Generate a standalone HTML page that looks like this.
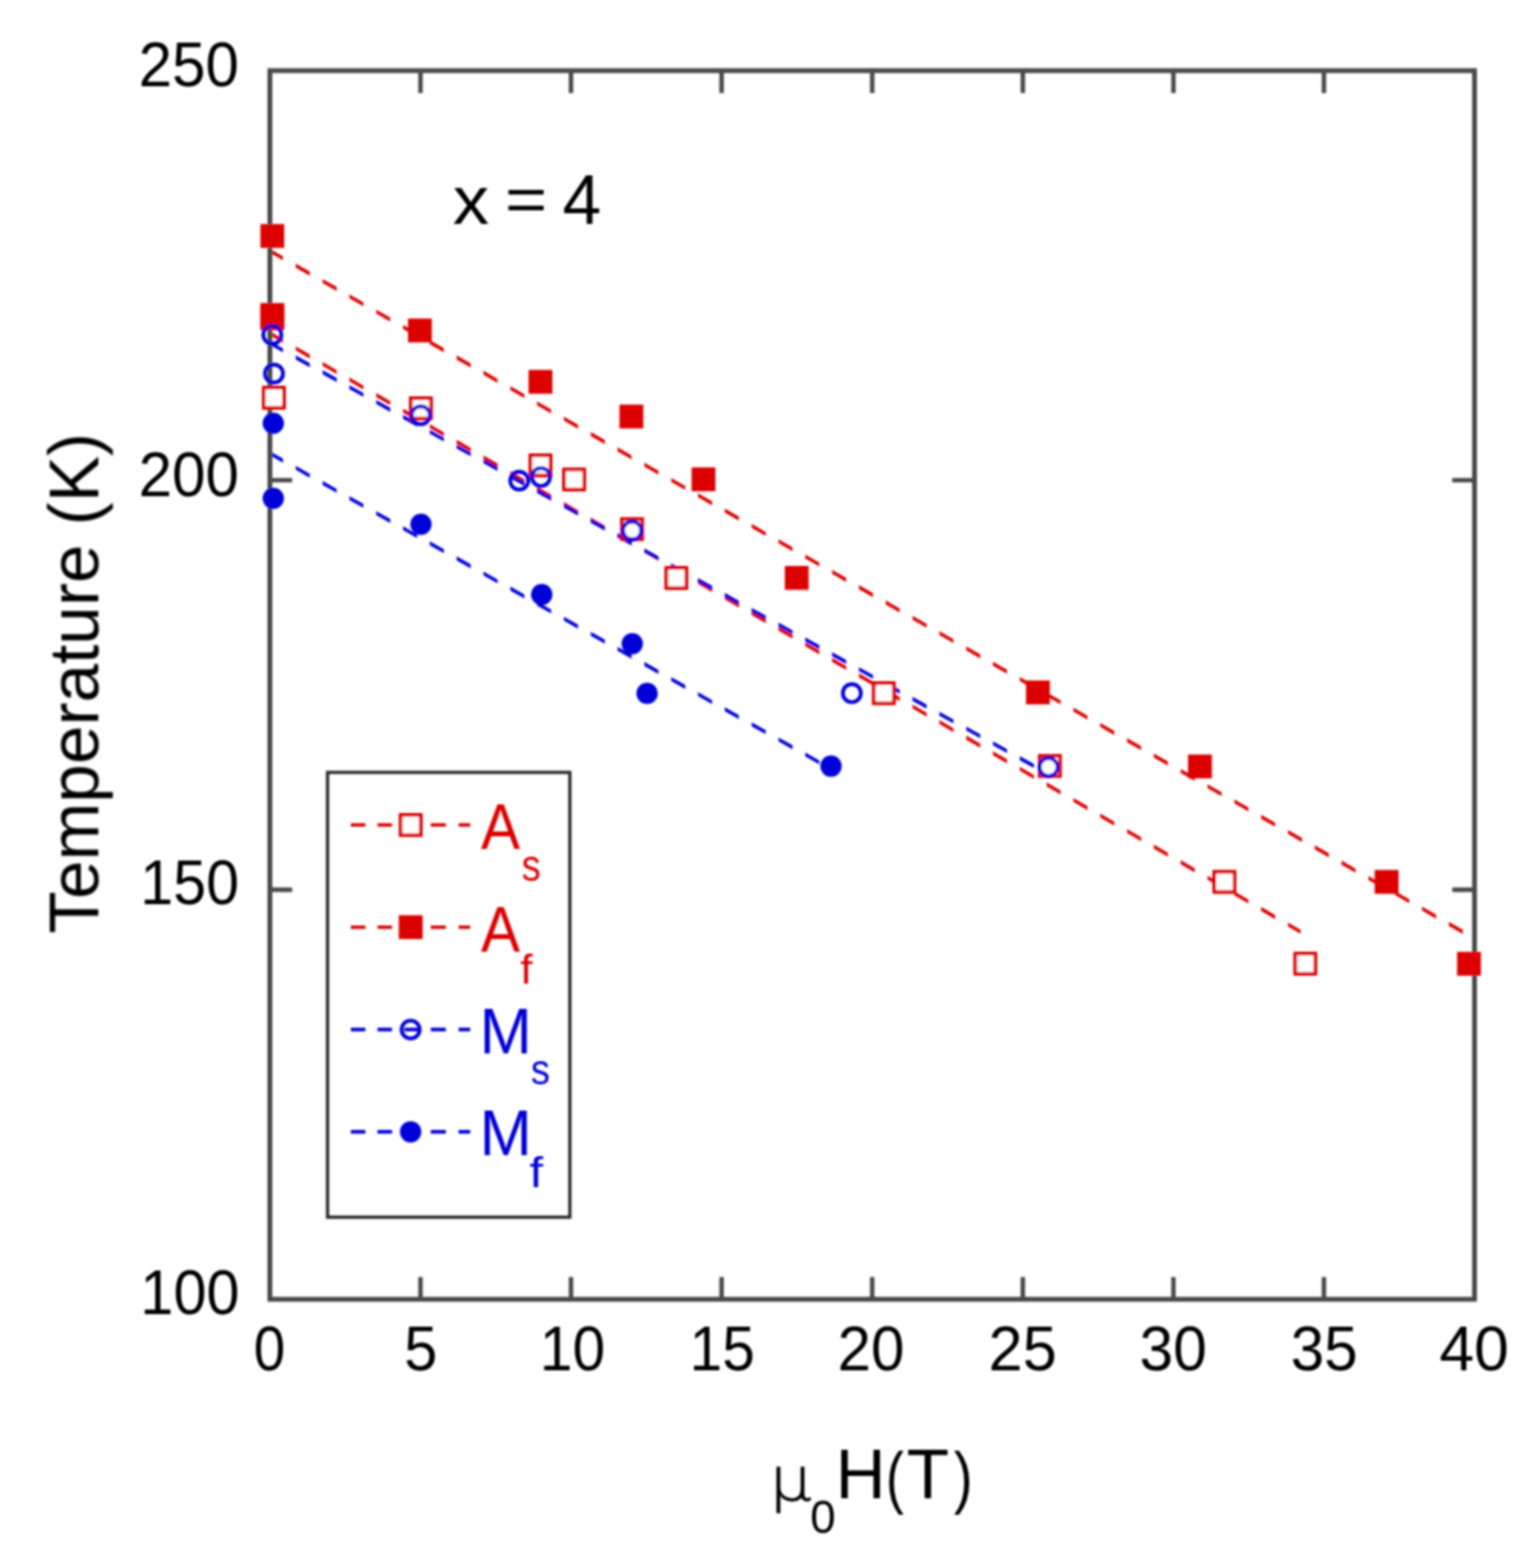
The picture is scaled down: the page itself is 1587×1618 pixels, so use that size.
<!DOCTYPE html>
<html><head><meta charset="utf-8"><title>Transition temperatures vs field, x = 4</title>
<style>html,body{margin:0;padding:0;background:#fff;}body{width:1587px;height:1618px;overflow:hidden;}svg{display:block;}text{font-family:'Liberation Sans', Arial, Helvetica, sans-serif;}</style></head><body>
<svg width="1587" height="1618" viewBox="0 0 1587 1618">
<rect width="1587" height="1618" fill="#fff"/>
<defs><filter id="b" x="0" y="0" width="1587" height="1618" filterUnits="userSpaceOnUse"><feGaussianBlur stdDeviation="0.8"/></filter></defs>
<g filter="url(#b)">
<path fill="#dc0505" d="M278.5 256.8L292 264.5L292 268.6L278.5 260.9ZM305.2 272.1L319.7 280.3L319.7 284.4L305.2 276.2ZM332.9 287.9L347.4 296.1L347.4 300.2L332.9 292ZM360.5 303.7L375 311.9L375 316L360.5 307.8ZM388.2 319.5L402.7 327.7L402.7 331.8L388.2 323.6ZM415.9 335.3L430.4 343.5L430.4 347.6L415.9 339.4ZM443.5 351.1L458 359.3L458 363.4L443.5 355.2ZM471.2 366.8L485.7 375.1L485.7 379.2L471.2 370.9ZM498.9 382.6L513.4 390.9L513.4 395L498.9 386.7ZM526.6 398.4L541.1 406.7L541.1 410.8L526.6 402.5ZM554.2 414.2L568.7 422.5L568.7 426.6L554.2 418.3ZM581.9 430L596.4 438.3L596.4 442.4L581.9 434.1ZM609.6 445.8L624.1 454.1L624.1 458.2L609.6 449.9ZM637.2 461.6L651.7 469.9L651.7 474L637.2 465.7ZM664.9 477.4L679.4 485.7L679.4 489.8L664.9 481.5ZM692.6 493.2L707.1 501.5L707.1 505.6L692.6 497.3ZM720.2 509L734.8 517.3L734.8 521.4L720.2 513.1ZM747.9 524.8L762.4 533.1L762.4 537.2L747.9 528.9ZM775.6 540.6L790.1 548.9L790.1 553L775.6 544.7ZM803.3 556.4L817.8 564.7L817.8 568.8L803.3 560.5ZM830.9 572.2L845.4 580.5L845.4 584.6L830.9 576.3ZM858.6 588L873.1 596.3L873.1 600.4L858.6 592.1ZM886.3 603.8L900.8 612.1L900.8 616.2L886.3 607.9ZM913.9 619.6L928.4 627.9L928.4 632L913.9 623.7ZM941.6 635.4L956.1 643.7L956.1 647.8L941.6 639.5ZM969.3 651.2L983.8 659.5L983.8 663.6L969.3 655.3ZM997 667L1011.5 675.3L1011.5 679.4L997 671.1ZM1024.6 682.8L1039.1 691.1L1039.1 695.2L1024.6 686.9ZM1052.3 698.6L1066.8 706.9L1066.8 711L1052.3 702.7ZM1080 714.4L1094.5 722.7L1094.5 726.8L1080 718.5ZM1107.6 730.2L1122.1 738.5L1122.1 742.6L1107.6 734.3ZM1135.3 746L1149.8 754.3L1149.8 758.4L1135.3 750.1ZM1163 761.8L1177.5 770L1177.5 774.1L1163 765.9ZM1190.6 777.6L1205.1 785.8L1205.1 789.9L1190.6 781.7ZM1218.3 793.4L1232.8 801.6L1232.8 805.7L1218.3 797.5ZM1246 809.2L1260.5 817.4L1260.5 821.5L1246 813.3ZM1273.7 825L1288.2 833.2L1288.2 837.3L1273.7 829.1ZM1301.3 840.8L1315.8 849L1315.8 853.1L1301.3 844.9ZM1329 856.5L1343.5 864.8L1343.5 868.9L1329 860.6ZM1356.7 872.3L1371.2 880.6L1371.2 884.7L1356.7 876.4ZM1384.3 888.1L1398.8 896.4L1398.8 900.5L1384.3 892.2ZM1412 903.9L1426.5 912.2L1426.5 916.3L1412 908ZM1439.7 919.7L1454.2 928L1454.2 932.1L1439.7 923.8ZM1467.3 935.5L1481.8 943.8L1481.8 947.9L1467.3 939.6ZM1495 951.3L1509.5 959.6L1509.5 963.7L1495 955.4Z"/>
<path fill="#dc0505" d="M278.5 341.9L292 349.7L292 353.8L278.5 346ZM305.2 357.4L319.7 365.8L319.7 369.9L305.2 361.5ZM332.9 373.5L347.4 381.9L347.4 386L332.9 377.6ZM360.5 389.5L375 398L375 402.1L360.5 393.6ZM388.2 405.6L402.7 414L402.7 418.1L388.2 409.7ZM415.9 421.7L430.4 430.1L430.4 434.2L415.9 425.8ZM443.5 437.7L458 446.2L458 450.3L443.5 441.8ZM471.2 453.8L485.7 462.2L485.7 466.3L471.2 457.9ZM498.9 469.9L513.4 478.3L513.4 482.4L498.9 474ZM526.6 485.9L541.1 494.4L541.1 498.5L526.6 490ZM554.2 502L568.7 510.4L568.7 514.5L554.2 506.1ZM581.9 518.1L596.4 526.5L596.4 530.6L581.9 522.2ZM609.6 534.1L624.1 542.6L624.1 546.7L609.6 538.2ZM637.2 550.2L651.7 558.6L651.7 562.7L637.2 554.3ZM664.9 566.3L679.4 574.7L679.4 578.8L664.9 570.4ZM692.6 582.3L707.1 590.8L707.1 594.9L692.6 586.4ZM720.2 598.4L734.8 606.8L734.8 610.9L720.2 602.5ZM747.9 614.5L762.4 622.9L762.4 627L747.9 618.6ZM775.6 630.6L790.1 639L790.1 643.1L775.6 634.7ZM803.3 646.6L817.8 655L817.8 659.1L803.3 650.7ZM830.9 662.7L845.4 671.1L845.4 675.2L830.9 666.8ZM858.6 678.8L873.1 687.2L873.1 691.3L858.6 682.9ZM886.3 694.8L900.8 703.2L900.8 707.3L886.3 698.9ZM913.9 710.9L928.4 719.3L928.4 723.4L913.9 715ZM941.6 727L956.1 735.4L956.1 739.5L941.6 731.1ZM969.3 743L983.8 751.4L983.8 755.5L969.3 747.1ZM997 759.1L1011.5 767.5L1011.5 771.6L997 763.2ZM1024.6 775.2L1039.1 783.6L1039.1 787.7L1024.6 779.3ZM1052.3 791.2L1066.8 799.7L1066.8 803.8L1052.3 795.3ZM1080 807.3L1094.5 815.7L1094.5 819.8L1080 811.4ZM1107.6 823.4L1122.1 831.8L1122.1 835.9L1107.6 827.5ZM1135.3 839.4L1149.8 847.9L1149.8 852L1135.3 843.5ZM1163 855.5L1177.5 863.9L1177.5 868L1163 859.6ZM1190.6 871.6L1205.1 880L1205.1 884.1L1190.6 875.7ZM1218.3 887.6L1232.8 896.1L1232.8 900.2L1218.3 891.7ZM1246 903.7L1260.5 912.1L1260.5 916.2L1246 907.8ZM1273.7 919.8L1288.2 928.2L1288.2 932.3L1273.7 923.9ZM1301.3 935.8L1315.8 944.3L1315.8 948.4L1301.3 939.9ZM1329 951.9L1342 959.5L1342 963.6L1329 956Z"/>
<path fill="#0000d8" d="M278.5 352L292 359.5L292 363.6L278.5 356.1ZM305.2 366.8L319.7 374.8L319.7 378.9L305.2 370.9ZM332.9 382.1L347.4 390.1L347.4 394.2L332.9 386.2ZM360.5 397.4L375 405.5L375 409.6L360.5 401.5ZM388.2 412.7L402.7 420.8L402.7 424.9L388.2 416.8ZM415.9 428.1L430.4 436.1L430.4 440.2L415.9 432.2ZM443.5 443.4L458 451.4L458 455.5L443.5 447.5ZM471.2 458.7L485.7 466.7L485.7 470.8L471.2 462.8ZM498.9 474L513.4 482L513.4 486.1L498.9 478.1ZM526.6 489.3L541.1 497.3L541.1 501.4L526.6 493.4ZM554.2 504.6L568.7 512.7L568.7 516.8L554.2 508.7ZM581.9 520L596.4 528L596.4 532.1L581.9 524.1ZM609.6 535.3L624.1 543.3L624.1 547.4L609.6 539.4ZM637.2 550.6L651.7 558.6L651.7 562.7L637.2 554.7ZM664.9 565.9L679.4 573.9L679.4 578L664.9 570ZM692.6 581.2L707.1 589.2L707.1 593.3L692.6 585.3ZM720.2 596.5L734.8 604.6L734.8 608.7L720.2 600.6ZM747.9 611.8L762.4 619.9L762.4 624L747.9 615.9ZM775.6 627.2L790.1 635.2L790.1 639.3L775.6 631.3ZM803.3 642.5L817.8 650.5L817.8 654.6L803.3 646.6ZM830.9 657.8L845.4 665.8L845.4 669.9L830.9 661.9ZM858.6 673.1L873.1 681.1L873.1 685.2L858.6 677.2ZM886.3 688.4L900.8 696.4L900.8 700.5L886.3 692.5ZM913.9 703.7L928.4 711.8L928.4 715.9L913.9 707.8ZM941.6 719.1L956.1 727.1L956.1 731.2L941.6 723.2ZM969.3 734.4L983.8 742.4L983.8 746.5L969.3 738.5ZM997 749.7L1011.5 757.7L1011.5 761.8L997 753.8ZM1024.6 765L1039.1 773L1039.1 777.1L1024.6 769.1ZM1052.3 780.3L1066.8 788.3L1066.8 792.4L1052.3 784.4ZM1080 795.6L1082 796.8L1082 800.9L1080 799.7Z"/>
<path fill="#0000d8" d="M278.5 465.7L292 473.3L292 477.4L278.5 469.8ZM305.2 480.7L319.7 488.9L319.7 493L305.2 484.8ZM332.9 496.3L347.4 504.5L347.4 508.6L332.9 500.4ZM360.5 511.9L375 520L375 524.1L360.5 516ZM388.2 527.4L402.7 535.6L402.7 539.7L388.2 531.5ZM415.9 543L430.4 551.2L430.4 555.3L415.9 547.1ZM443.5 558.6L458 566.7L458 570.8L443.5 562.7ZM471.2 574.1L485.7 582.3L485.7 586.4L471.2 578.2ZM498.9 589.7L513.4 597.9L513.4 602L498.9 593.8ZM526.6 605.3L541.1 613.4L541.1 617.5L526.6 609.4ZM554.2 620.8L568.7 629L568.7 633.1L554.2 624.9ZM581.9 636.4L596.4 644.6L596.4 648.7L581.9 640.5ZM609.6 652L624.1 660.1L624.1 664.2L609.6 656.1ZM637.2 667.5L651.7 675.7L651.7 679.8L637.2 671.6ZM664.9 683.1L679.4 691.3L679.4 695.4L664.9 687.2ZM692.6 698.7L707.1 706.8L707.1 710.9L692.6 702.8ZM720.2 714.2L734.8 722.4L734.8 726.5L720.2 718.3ZM747.9 729.8L762.4 738L762.4 742.1L747.9 733.9ZM775.6 745.4L790.1 753.5L790.1 757.6L775.6 749.5ZM803.3 760.9L817.8 769.1L817.8 773.2L803.3 765ZM830.9 776.5L845.4 784.7L845.4 788.8L830.9 780.6Z"/>
<g stroke="#4a4a4a" stroke-width="5" fill="none">
<rect x="278.5" y="72.9" width="1243" height="1267.8"/>
<path stroke-width="4.6" d="M433.9 1340.7V1317.7M433.9 72.9V95.9M589.2 1340.7V1317.7M589.2 72.9V95.9M744.6 1340.7V1317.7M744.6 72.9V95.9M900 1340.7V1317.7M900 72.9V95.9M1055.4 1340.7V1317.7M1055.4 72.9V95.9M1210.8 1340.7V1317.7M1210.8 72.9V95.9M1366.1 1340.7V1317.7M1366.1 72.9V95.9M278.5 918.1H301.5M1521.5 918.1H1498.5M278.5 495.5H301.5M1521.5 495.5H1498.5"/>
</g>
<rect x="272.2" y="400" width="20.8" height="20.8" fill="#fff" stroke="#dc0505" stroke-width="3.8"/>
<rect x="423.9" y="410.9" width="20.8" height="20.8" fill="#fff" stroke="#dc0505" stroke-width="3.8"/>
<rect x="547.3" y="469.8" width="20.8" height="20.8" fill="#fff" stroke="#dc0505" stroke-width="3.8"/>
<rect x="582" y="484.4" width="20.8" height="20.8" fill="#fff" stroke="#dc0505" stroke-width="3.8"/>
<rect x="641.8" y="535.6" width="20.8" height="20.8" fill="#fff" stroke="#dc0505" stroke-width="3.8"/>
<rect x="687.5" y="586" width="20.8" height="20.8" fill="#fff" stroke="#dc0505" stroke-width="3.8"/>
<rect x="901.6" y="704.9" width="20.8" height="20.8" fill="#fff" stroke="#dc0505" stroke-width="3.8"/>
<rect x="1072.9" y="780" width="20.8" height="20.8" fill="#fff" stroke="#dc0505" stroke-width="3.8"/>
<rect x="1253" y="899.6" width="20.8" height="20.8" fill="#fff" stroke="#dc0505" stroke-width="3.8"/>
<rect x="1336.5" y="984" width="20.8" height="20.8" fill="#fff" stroke="#dc0505" stroke-width="3.8"/>
<rect x="268.7" y="231.2" width="24.6" height="24.6" fill="#dc0505"/>
<rect x="268.7" y="316.2" width="24.6" height="24.6" fill="#dc0505"/>
<rect x="268.7" y="312.7" width="24.6" height="24.6" fill="#dc0505"/>
<rect x="421" y="328.7" width="24.6" height="24.6" fill="#dc0505"/>
<rect x="545.4" y="381.7" width="24.6" height="24.6" fill="#dc0505"/>
<rect x="639.2" y="417.5" width="24.6" height="24.6" fill="#dc0505"/>
<rect x="713.6" y="482.3" width="24.6" height="24.6" fill="#dc0505"/>
<rect x="809.8" y="584" width="24.6" height="24.6" fill="#dc0505"/>
<rect x="1058.7" y="702.2" width="24.6" height="24.6" fill="#dc0505"/>
<rect x="1225.9" y="778.6" width="24.6" height="24.6" fill="#dc0505"/>
<rect x="1418.5" y="897.7" width="24.6" height="24.6" fill="#dc0505"/>
<rect x="1503.5" y="982.2" width="24.6" height="24.6" fill="#dc0505"/>
<circle cx="282" cy="436.7" r="11" fill="#0000d8"/>
<circle cx="282" cy="514.2" r="11" fill="#0000d8"/>
<circle cx="434.4" cy="541" r="11" fill="#0000d8"/>
<circle cx="559" cy="613.5" r="11" fill="#0000d8"/>
<circle cx="652.4" cy="664.2" r="11" fill="#0000d8"/>
<circle cx="667.7" cy="715.5" r="11" fill="#0000d8"/>
<circle cx="857.5" cy="790.6" r="11" fill="#0000d8"/>
<circle cx="281" cy="345.5" r="9.3" fill="none" stroke="#0000d8" stroke-width="3.9"/>
<circle cx="282.7" cy="385.5" r="9.3" fill="none" stroke="#0000d8" stroke-width="3.9"/>
<circle cx="434.2" cy="428.5" r="9.3" fill="none" stroke="#0000d8" stroke-width="3.9"/>
<circle cx="535.8" cy="496" r="9.3" fill="none" stroke="#0000d8" stroke-width="3.9"/>
<circle cx="558.2" cy="492.3" r="9.3" fill="none" stroke="#0000d8" stroke-width="3.9"/>
<circle cx="652.3" cy="547.5" r="9.3" fill="none" stroke="#0000d8" stroke-width="3.9"/>
<circle cx="879" cy="715.3" r="9.3" fill="none" stroke="#0000d8" stroke-width="3.9"/>
<circle cx="1082" cy="791.6" r="9.3" fill="none" stroke="#0000d8" stroke-width="3.9"/>
<g fill="#000">
<text transform="matrix(0.9489 0 0 1 142.99 88.99)" font-size="65.50" fill="#000">250</text>
<text transform="matrix(0.9489 0 0 1 142.99 511.79)" font-size="65.50" fill="#000">200</text>
<text transform="matrix(0.9317 0 0 1 144.82 932.69)" font-size="65.50" fill="#000">150</text>
<text transform="matrix(0.9366 0 0 1 144.80 1356.39)" font-size="65.50" fill="#000">100</text>
<text transform="matrix(0.8952 0 0 1 261.75 1414.19)" font-size="65.50" fill="#000">0</text>
<text transform="matrix(0.9417 0 0 1 417.03 1413.53)" font-size="65.50" fill="#000">5</text>
<text transform="matrix(0.9260 0 0 1 556.95 1414.19)" font-size="65.50" fill="#000">10</text>
<text transform="matrix(0.9252 0 0 1 711.55 1413.53)" font-size="65.50" fill="#000">15</text>
<text transform="matrix(0.9481 0 0 1 864.29 1414.19)" font-size="65.50" fill="#000">20</text>
<text transform="matrix(0.9669 0 0 1 1019.93 1414.19)" font-size="65.50" fill="#000">25</text>
<text transform="matrix(0.9573 0 0 1 1175.65 1414.19)" font-size="65.50" fill="#000">30</text>
<text transform="matrix(0.9523 0 0 1 1331.66 1414.19)" font-size="65.50" fill="#000">35</text>
<text transform="matrix(0.9873 0 0 1 1485.14 1414.19)" font-size="65.50" fill="#000">40</text>
</g>
<text transform="matrix(1.0557 0 0 1 467.16 231.25)" font-size="71.00" fill="#000">x</text>
<text transform="matrix(1.1593 0 0 1 520.90 227.60)" font-size="64.50" fill="#000">=</text>
<text transform="matrix(0.9926 0 0 1 580.59 231.25)" font-size="72.22" fill="#000">4</text>
<text transform="matrix(1.0913 0 0 1 794.43 1548.34)" font-size="61.99" fill="#000" stroke="#000" stroke-width="0.9" style="font-family:'DejaVu Sans',sans-serif;font-weight:200">&#956;</text>
<text transform="matrix(0.9763 0 0 1 835.91 1581.62)" font-size="48.48" fill="#000">0</text>
<text transform="matrix(0.9915 0 0 1 862.31 1545.90)" font-size="72.00" fill="#000">H</text>
<text transform="matrix(0.7866 0 0 1 913.91 1547.88)" font-size="71.00" fill="#000">(</text>
<text transform="matrix(0.9980 0 0 1 935.38 1545.90)" font-size="72.00" fill="#000">T</text>
<text transform="matrix(0.8291 0 0 1 984.26 1547.88)" font-size="71.00" fill="#000">)</text>
<text transform="matrix(0 -0.9935 1 0 101.40 963.41)" font-size="72.0">Temperature (K)</text>
<rect x="338" y="797" width="250" height="459" fill="none" stroke="#222" stroke-width="3.2"/>
<path fill="#dc0505" d="M362 849.5H377V853.1H362ZM389.5 849.5H404.5V853.1H389.5ZM417.2 849.5H432.2V853.1H417.2ZM444.5 849.5H460V853.1H444.5ZM473.2 849.5H485.2V853.1H473.2Z"/>
<rect x="413.4" y="840.9" width="20.8" height="20.8" fill="#fff" stroke="#dc0505" stroke-width="3.8"/>
<path fill="#dc0505" d="M362 954.9H377V958.5H362ZM389.5 954.9H404.5V958.5H389.5ZM417.2 954.9H432.2V958.5H417.2ZM444.5 954.9H460V958.5H444.5ZM473.2 954.9H485.2V958.5H473.2Z"/>
<rect x="411.5" y="944.4" width="24.6" height="24.6" fill="#dc0505"/>
<path fill="#0000d8" d="M362 1060.6H377V1064.2H362ZM389.5 1060.6H404.5V1064.2H389.5ZM417.2 1060.6H432.2V1064.2H417.2ZM444.5 1060.6H460V1064.2H444.5ZM473.2 1060.6H485.2V1064.2H473.2Z"/>
<circle cx="423.7" cy="1062.4" r="9.3" fill="none" stroke="#0000d8" stroke-width="3.9"/>
<path fill="#0000d8" d="M362 1166.1H377V1169.7H362ZM389.5 1166.1H404.5V1169.7H389.5ZM417.2 1166.1H432.2V1169.7H417.2ZM444.5 1166.1H460V1169.7H444.5ZM473.2 1166.1H485.2V1169.7H473.2Z"/>
<circle cx="423.7" cy="1167.9" r="11" fill="#0000d8"/>
<text transform="matrix(0.9010 0 0 1 496.15 876.30)" font-size="67.35" fill="#dc0505">A</text>
<text transform="matrix(0.8695 0 0 1 538.31 908.55)" font-size="45.48" fill="#dc0505">s</text>
<text transform="matrix(0.9010 0 0 1 496.15 981.80)" font-size="67.35" fill="#dc0505">A</text>
<text transform="matrix(1.0695 0 0 1 536.81 1014.80)" font-size="43.04" fill="#dc0505">f</text>
<text transform="matrix(0.9655 0 0 1 494.74 1086.80)" font-size="67.35" fill="#0000d8">M</text>
<text transform="matrix(0.8837 0 0 1 547.81 1119.05)" font-size="44.75" fill="#0000d8">s</text>
<text transform="matrix(0.9675 0 0 1 494.74 1192.30)" font-size="67.20" fill="#0000d8">M</text>
<text transform="matrix(1.1611 0 0 1 546.24 1225.40)" font-size="43.88" fill="#0000d8">f</text>
</g>
</svg></body></html>
